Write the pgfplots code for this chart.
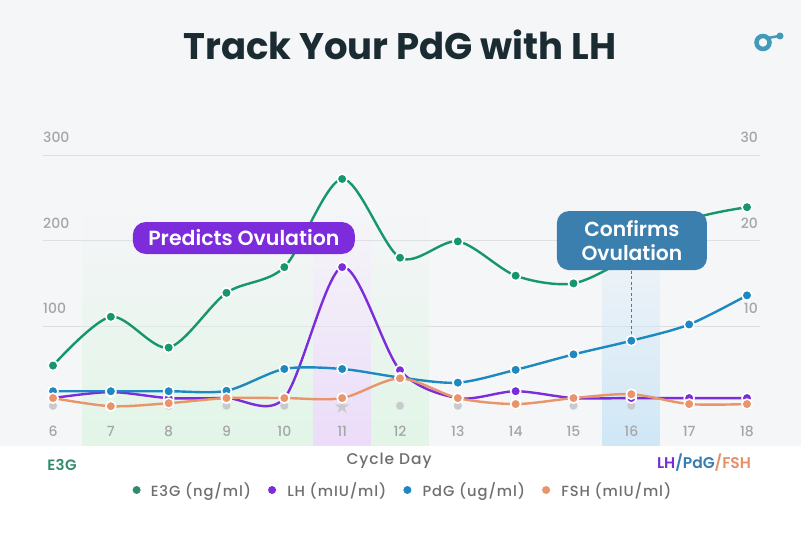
\documentclass[border=0pt]{standalone}
\usepackage{fontspec}
\setmainfont{Poppins}
\newfontfamily\popsb{Poppins SemiBold}
\newfontfamily\popsbls{Poppins SemiBold}[LetterSpace=3]
\newfontfamily\popmed{Poppins Medium}
\newfontfamily\popmedls{Poppins Medium}[LetterSpace=6]
\newfontfamily\dejavu{DejaVu Sans}
\usepackage{pgfplots}
\usepackage{pgfplotstable}
\pgfplotsset{compat=1.18}
\usetikzlibrary{fadings}
\definecolor{bg}{RGB}{245,246,248}
\definecolor{e3g}{RGB}{22,150,108}
\definecolor{lh}{RGB}{124,44,218}
\definecolor{pdg}{RGB}{30,136,192}
\definecolor{fsh}{RGB}{233,148,106}
\definecolor{confirm}{RGB}{58,127,174}
\definecolor{predict}{RGB}{124,44,218}
\definecolor{titlec}{RGB}{26,43,50}
\definecolor{tickc}{RGB}{165,165,168}
\definecolor{gridc}{RGB}{222,223,227}
\definecolor{labc}{RGB}{110,110,112}
\definecolor{bandg}{RGB}{226,245,231}
\definecolor{bandp}{RGB}{236,220,250}
\definecolor{bandb}{RGB}{208,231,246}
\definecolor{ovu}{RGB}{200,202,205}
\definecolor{logo}{RGB}{64,154,184}
\definecolor{e3gl}{RGB}{50,140,105}
\definecolor{lhl}{RGB}{120,45,210}
\definecolor{pdgl}{RGB}{55,125,180}
\definecolor{fshl}{RGB}{228,145,105}

\pgfplotstableread{
day e3g lh pdg fsh
6 54 1.6 2.4 1.6
7 111 2.3 2.4 0.65
8 75 1.6 2.4 1.0
9 139 1.6 2.45 1.6
10 169 1.6 5.0 1.6
11 272 16.9 5.0 1.6
12 180 4.85 4.0 3.9
13 199 1.6 3.4 1.6
14 159 2.4 4.9 0.9
15 150 1.6 6.7 1.6
16 182 1.6 8.3 2.05
17 224 1.6 10.2 0.9
18 239 1.6 13.6 0.9
}\data

\pgfplotstableread{
day v
6 7
7 7
8 7
9 7
10 7
12 7
13 7
14 7
15 7
16 7
17 7
18 7
}\ovudots

\pgfplotsset{
  common/.style={
    at={(43pt,87pt)}, anchor=south west, scale only axis,
    width=717pt, height=291pt,
    xmin=5.827, xmax=18.225,
    clip=false,
    axis line style={draw=none}, major tick length=0pt,
    /pgf/number format/assume math mode=true,
    tick label style={font=\popmed\fontsize{14}{16}\selectfont, text=tickc},
  },
  ser/.style={#1, line width=2.4pt, smooth, mark=*, mark size=5pt,
    mark options={draw=white, line width=1.6pt, fill=#1}},
}

\begin{document}
\begin{tikzpicture}
\useasboundingbox (0,0) rectangle (801pt,533pt);
\fill[white] (0,0) rectangle (801pt,87pt);
\fill[bg] (0,87pt) rectangle (801pt,533pt);

% title
\node[text=titlec, font=\bfseries\fontsize{37}{40}\selectfont, anchor=base, inner sep=0pt] at (400pt,473pt) {Track Your PdG with LH};
% logo
\draw[logo, line width=4.5pt] (763pt,490.5pt) circle (6.5pt);
\draw[logo, line width=2.5pt] (768pt,495pt) -- (779pt,497pt);
\fill[logo] (780pt,497pt) circle (3.5pt);

\begin{axis}[common,
  ymin=-40, ymax=300,
  xtick=\empty,
  ytick={100,200,300},
  ymajorgrids, grid style={gridc, line width=0.8pt},
  yticklabel style={anchor=south west, inner sep=0pt, yshift=12pt},
  xlabel={Cycle Day},
  xlabel style={at={(axis description cs:0.4826,0)}, anchor=center, yshift=-15pt,
    font=\popmedls\fontsize{15.5}{17}\selectfont, text=labc},
  ylabel={E3G},
  ylabel style={rotate=-90, at={(axis description cs:0.0265,-0.065)}, anchor=center,
    font=\popsbls\fontsize{15}{16}\selectfont, text=e3gl},
]
\addplot[draw=none, fill=bandg, path fading=north, forget plot]
  coordinates {(6.5,-40) (10.5,-40) (10.5,230) (6.5,230)} -- cycle;
\addplot[draw=none, fill=bandp, path fading=north, forget plot]
  coordinates {(10.5,-40) (11.5,-40) (11.5,230) (10.5,230)} -- cycle;
\addplot[draw=none, fill=bandg, path fading=north, forget plot]
  coordinates {(11.5,-40) (12.5,-40) (12.5,230) (11.5,230)} -- cycle;
\addplot[draw=none, fill=bandb, path fading=north, forget plot]
  coordinates {(15.5,-40) (16.5,-40) (16.5,230) (15.5,230)} -- cycle;
\addplot[only marks, mark=*, mark size=3.8pt, color=ovu, forget plot] table[x=day,y=v] {\ovudots};
\addplot[only marks, color=ovu, mark=text, text mark={\dejavu\fontsize{19}{19}\selectfont\textcolor{ovu}{★}}, forget plot]
  coordinates {(11,6)};
\addplot[ser=e3g] table[x=day,y=e3g] {\data};
\end{axis}

\begin{axis}[common,
  ymin=-4, ymax=30,
  axis y line*=right, axis x line*=bottom,
  xtick={6,...,18},
  xticklabel style={anchor=base, inner sep=0pt, yshift=9pt},
  ytick={10,20,30},
  yticklabel style={anchor=south east, inner sep=0pt, yshift=12pt, xshift=-2pt},
  ylabel={\textcolor{lhl}{LH}\textcolor{pdgl}{/PdG}\textcolor{fshl}{/FSH}},
  ylabel style={rotate=-90, at={(axis description cs:0.922,-0.0584)}, anchor=center,
    font=\popsb\fontsize{15.5}{16}\selectfont},
  legend columns=4,
  legend style={at={(0.502,-0.1512)}, anchor=center, draw=none, fill=none,
    font=\popmedls\fontsize{14.7}{16}\selectfont, text=labc,
    /tikz/every even column/.append style={column sep=15pt}},
  legend image code/.code={\fill[draw=none] (0pt,0pt) circle (4pt); \path (12pt,0pt);},
]
\addlegendimage{color=e3gl}
\addlegendentry{E3G (ng/ml)}
\addplot[ser=lh] table[x=day,y=lh] {\data};
\addlegendentry{LH (mIU/ml)}
\draw[confirm, line width=1.3pt, dash pattern=on 3pt off 2.5pt] (axis cs:16,16.5) -- (axis cs:16,8.9);
\addplot[ser=pdg] table[x=day,y=pdg] {\data};
\addlegendentry{PdG (ug/ml)}
\addplot[ser=fsh] table[x=day,y=fsh] {\data};
\addlegendentry{FSH (mIU/ml)}
\node[fill=predict, rounded corners=13pt, text=white, font=\popsb\fontsize{20.5}{22}\selectfont,
  minimum width=222pt, minimum height=32pt, inner sep=0pt] at (axis cs:9.30,20.3) {Predicts Ovulation};
\node[fill=confirm, rounded corners=12pt, text=white, font=\popsb\fontsize{20.3}{24}\selectfont,
  minimum width=150pt, minimum height=59pt, inner sep=0pt, align=center] at (axis cs:16.01,20.0) {Confirms\\Ovulation};
\end{axis}
\end{tikzpicture}
\end{document}
